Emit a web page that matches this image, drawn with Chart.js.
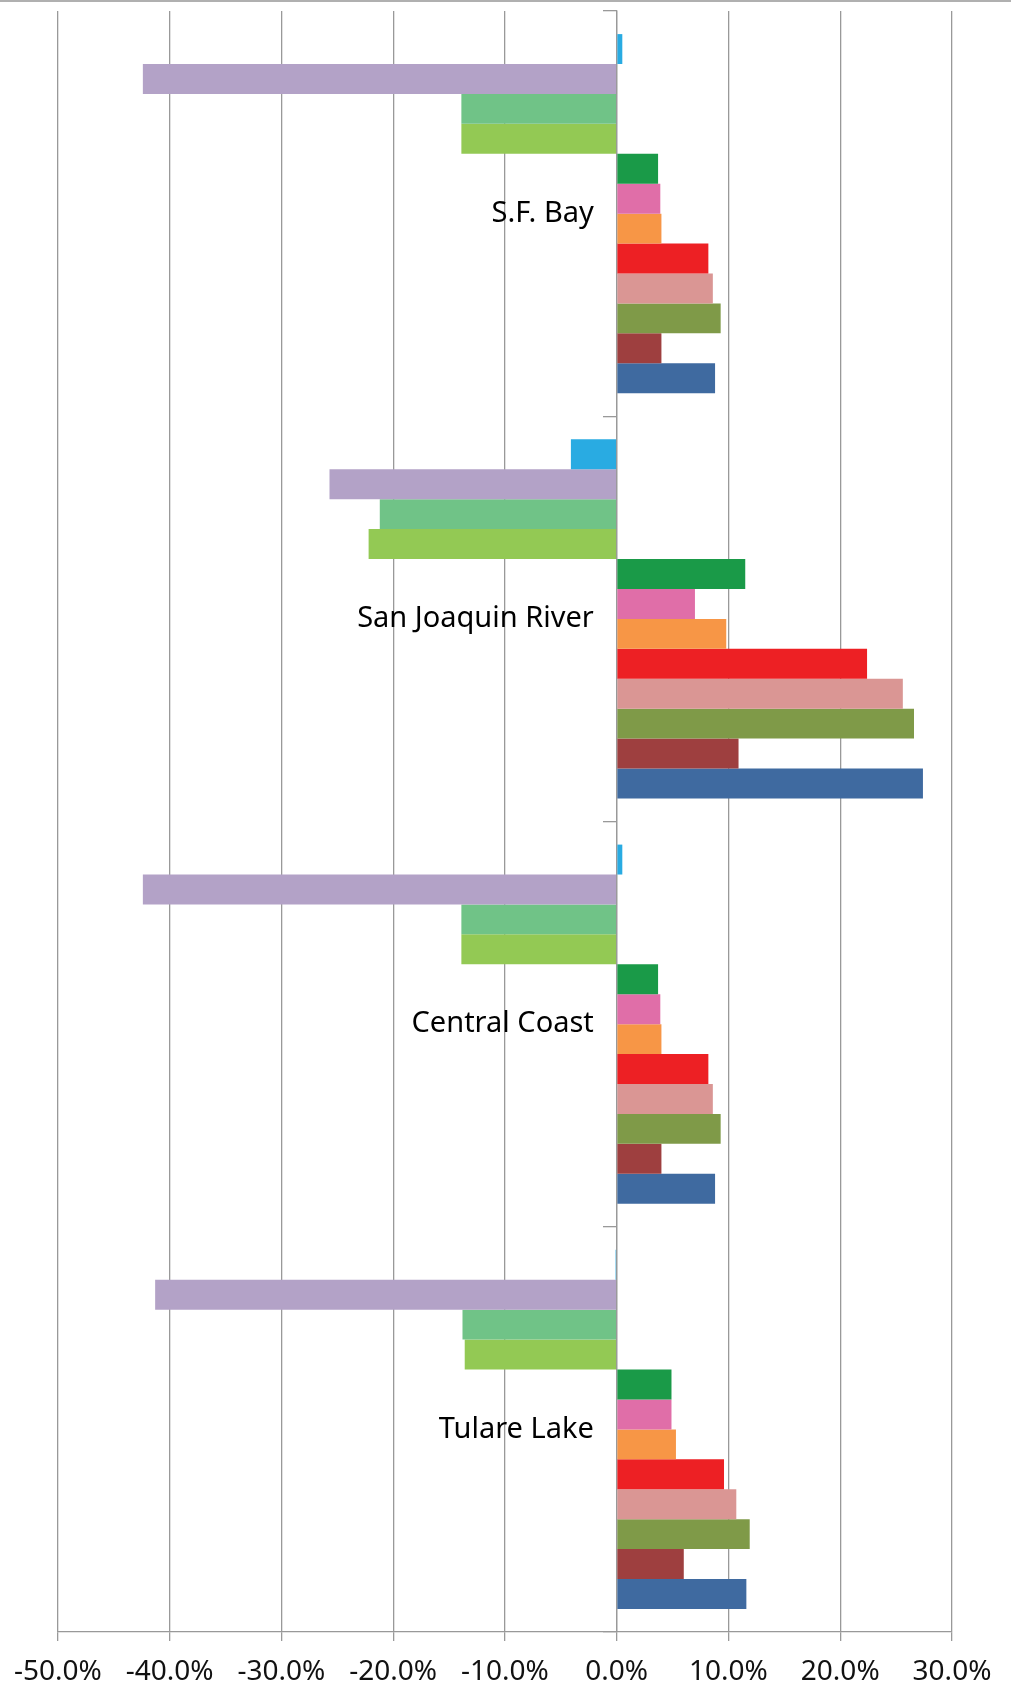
<!DOCTYPE html>
<html>
<head>
<meta charset="utf-8">
<title>Regional change by series</title>
<script src="https://cdn.jsdelivr.net/npm/chart.js@4.4.1/dist/chart.umd.min.js"></script>
<style>
  html, body { margin: 0; padding: 0; background: #fff; }
  #wrap { position: relative; width: 1011px; height: 1689px; }
  #topRule { position: absolute; left: 0; top: 0; width: 1011px; height: 2px; background: #b0b0b0; }
</style>
</head>
<body>
<div id="wrap">
  <canvas id="chart" width="1011" height="1689"></canvas>
  <div id="topRule"></div>
</div>
<script>
  // ----- Data (percent change) -----
  const regions = ["S.F. Bay", "San Joaquin River", "Central Coast", "Tulare Lake"];

  // one array per series, values per region in the order above
  const series01 = [0.5, -4.1, 0.5, -0.1];
  const series02 = [-42.4, -25.7, -42.4, -41.3];
  const series03 = [-13.9, -21.2, -13.9, -13.8];
  const series04 = [-13.9, -22.2, -13.9, -13.6];
  const series05 = [3.7, 11.5, 3.7, 4.9];
  const series06 = [3.9, 7.0, 3.9, 4.9];
  const series07 = [4.0, 9.8, 4.0, 5.3];
  const series08 = [8.2, 22.4, 8.2, 9.6];
  const series09 = [8.6, 25.6, 8.6, 10.7];
  const series10 = [9.3, 26.6, 9.3, 11.9];
  const series11 = [4.0, 10.9, 4.0, 6.0];
  const series12 = [8.8, 27.4, 8.8, 11.6];

  const xTicksMin = -50;
  const xTicksMax = 30;
  const xTickStep = 10;

  // ----- Styles -----
  const COLORS = [
    "#29abe2", "#b3a2c7", "#70c387", "#93c954", "#1a9a48", "#e06ea8",
    "#f79646", "#ed2024", "#da9694", "#7f9a48", "#9e3f3f", "#3f6aa0",
  ];
  const AXIS_GRAY = "#999999";
  const FONT = "'Noto Sans', 'Open Sans', sans-serif";

  const allSeries = [
    series01, series02, series03, series04, series05, series06,
    series07, series08, series09, series10, series11, series12,
  ];

  const datasets = allSeries.map((values, i) => ({
    label: "Series " + (i + 1),
    data: values,
    backgroundColor: COLORS[i],
    borderWidth: 0,
    categoryPercentage: 0.886,
    barPercentage: 1.0,
  }));

  // category axes sit inside the plot, so drop their auto top/bottom padding
  const noPad = (s) => { s.paddingTop = 0; s.paddingBottom = 0; };

  new Chart(document.getElementById("chart"), {
    type: "bar",
    data: { labels: regions, datasets },
    options: {
      indexAxis: "y",
      responsive: false,
      animation: false,
      layout: { padding: { left: 57, right: 59, top: 11, bottom: 0 } },
      plugins: {
        legend: { display: false },
        tooltip: { enabled: false },
      },
      scales: {
        x: {
          type: "linear",
          position: "bottom",
          min: xTicksMin,
          max: xTicksMax,
          ticks: {
            stepSize: xTickStep,
            padding: 14,
            color: "#111",
            font: { family: FONT, size: 28 },
            callback: (v) => v.toFixed(1) + "%",
          },
          grid: { color: AXIS_GRAY, lineWidth: 1.3, tickLength: 9, drawTicks: true },
          border: { color: AXIS_GRAY, width: 1.3 },
          afterFit: (s) => { s.height = 57; },
        },
        // vertical axis line + boundary ticks at 0%
        y: {
          type: "category",
          position: { x: 0 },
          offset: true,
          ticks: { display: false },
          grid: { drawOnChartArea: false, drawTicks: true, tickLength: 13, color: AXIS_GRAY, lineWidth: 1.3, offset: true },
          border: { color: AXIS_GRAY, width: 1.3 },
          afterFit: noPad,
        },
        // region names, set a little left of the axis
        yLabels: {
          type: "category",
          axis: "y",
          labels: regions,
          position: { x: -2.05 },
          offset: true,
          ticks: {
            color: "#000",
            font: { family: FONT, size: 29 },
          },
          grid: { display: false, drawTicks: false },
          border: { display: false },
          afterFit: noPad,
        },
      },
    },
  });
</script>
</body>
</html>
